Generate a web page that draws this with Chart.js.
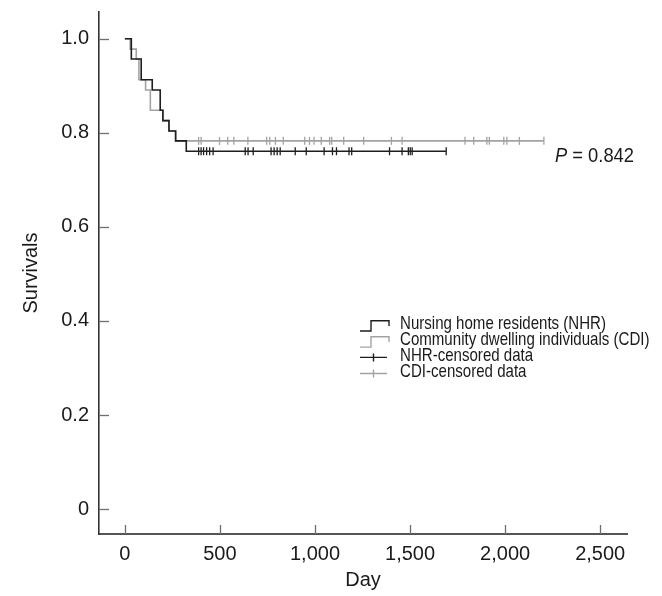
<!DOCTYPE html>
<html lang="en">
<head>
  <meta charset="UTF-8" />
  <title>Survival by residence</title>
  <script src="https://cdn.jsdelivr.net/npm/chart.js@4.4.0/dist/chart.umd.min.js"></script>
  <style>
    body {
      margin: 0;
      background: #fff;
    }

    .chart-box {
      position: relative;
      width: 662px;
      height: 596px;
    }
  </style>
</head>
<body>
  <div class="chart-box">
    <canvas id="kmChart"></canvas>
  </div>

  <script>
    // axis ticks
    const xTicks = [0, 500, 1000, 1500, 2000, 2500];
    const yTicks = [0, 0.2, 0.4, 0.6, 0.8, 1.0];

    // Kaplan-Meier steps (day of event, survival after it); last entry = end of follow-up
    const nhrDays = [0, 34, 86, 144, 186, 200, 232, 267, 323, 1690];
    const nhrSurv = [1.0, 0.957, 0.913, 0.891, 0.848, 0.826, 0.804, 0.783, 0.761, 0.761];
    const cdiDays = [0, 28, 60, 74, 109, 134, 200, 232, 267, 2204];
    const cdiSurv = [1.0, 0.978, 0.957, 0.913, 0.891, 0.848, 0.826, 0.804, 0.783, 0.783];

    // censored observations (days)
    const nhrCensor = [388, 401, 414, 430, 446, 464, 633, 648, 675, 769, 785, 801, 817, 896, 954,
      1048, 1092, 1113, 1179, 1193, 1392, 1458, 1491, 1501, 1511, 1690];
    const cdiCensor = [388, 401, 498, 541, 573, 647, 746, 762, 792, 833, 946, 971, 995, 1033, 1077,
      1088, 1151, 1256, 1402, 1458, 1789, 1835, 1904, 1917, 1993, 2009, 2075, 2204];

    const legendLabels = ['Nursing home residents (NHR)', 'Community dwelling individuals (CDI)',
      'NHR-censored data', 'CDI-censored data'];
    const pValue = '0.842';

    const FONT = "'Liberation Sans', Arial, sans-serif";
    const BLACK = '#1e1e1e';
    const GREY = '#a3a3a3';

    function levelAt(days, surv, d) {
      let s = surv[0];
      for (let i = 0; i < days.length; i++) {
        if (days[i] <= d) s = surv[i];
      }
      return s;
    }

    const toPoints = (days, surv) => days.map((d, i) => ({ x: d, y: surv[i] }));
    const toCensor = (cens, days, surv) => cens.map(d => ({ x: d, y: levelAt(days, surv, d) }));

    // inward tick marks on both axes
    const innerTicks = {
      id: 'innerTicks',
      afterDraw(chart) {
        const { ctx, chartArea, scales } = chart;
        ctx.save();
        ctx.strokeStyle = '#6e6e6e';
        ctx.lineWidth = 1.3;
        xTicks.forEach(v => {
          const px = Math.round(scales.x.getPixelForValue(v)) + 0.5;
          ctx.beginPath();
          ctx.moveTo(px, chartArea.bottom);
          ctx.lineTo(px, chartArea.bottom - 9);
          ctx.stroke();
        });
        yTicks.forEach(v => {
          const py = Math.round(scales.y.getPixelForValue(v)) + 0.5;
          ctx.beginPath();
          ctx.moveTo(chartArea.left, py);
          ctx.lineTo(chartArea.left + 10, py);
          ctx.stroke();
        });
        ctx.restore();
      }
    };

    // narrow text: squeeze horizontally, like the condensed face of the original
    function narrowText(ctx, text, x, y, squeeze) {
      ctx.save();
      ctx.translate(x, y);
      ctx.scale(squeeze, 1);
      ctx.fillText(text, 0, 0);
      ctx.restore();
      return ctx.measureText(text).width * squeeze;
    }

    // legend with step icons and the P value
    const notes = {
      id: 'notes',
      afterDraw(chart) {
        const ctx = chart.ctx;
        ctx.save();
        ctx.font = '19px ' + FONT;
        ctx.textBaseline = 'alphabetic';
        ctx.textAlign = 'left';
        const squeeze = 206 / ctx.measureText(legendLabels[0]).width;
        const base = [328.5, 344.6, 360.7, 376.8];
        const cols = [BLACK, GREY, BLACK, GREY];
        base.forEach((b, i) => {
          ctx.strokeStyle = cols[i];
          ctx.lineWidth = 1.4;
          ctx.beginPath();
          if (i < 2) {
            ctx.moveTo(360, b + 2.5);
            ctx.lineTo(371, b + 2.5);
            ctx.lineTo(371, b - 7.8);
            ctx.lineTo(389, b - 7.8);
            ctx.lineTo(389, b - 2.5);
          } else {
            const y = b - 3.3;
            ctx.moveTo(360, y);
            ctx.lineTo(387, y);
            ctx.moveTo(373.5, y - 4);
            ctx.lineTo(373.5, y + 4);
          }
          ctx.stroke();
          ctx.fillStyle = '#1a1a1a';
          narrowText(ctx, legendLabels[i], 400, b, squeeze);
        });

        // P value, fitted to the width it takes in the original
        ctx.fillStyle = '#1a1a1a';
        ctx.font = 'italic 21px ' + FONT;
        const pw = ctx.measureText('P').width;
        ctx.font = '21px ' + FONT;
        const rest = ' = ' + pValue;
        const pSqueeze = 79 / (pw + ctx.measureText(rest).width);
        ctx.font = 'italic 21px ' + FONT;
        const w = narrowText(ctx, 'P', 555, 162, pSqueeze);
        ctx.font = '21px ' + FONT;
        narrowText(ctx, rest, 555 + w, 162, pSqueeze);
        ctx.restore();
      }
    };

    const kmChart = new Chart(document.getElementById('kmChart'), {
      type: 'scatter',
      data: {
        datasets: [
          {
            label: 'NHR',
            data: toPoints(nhrDays, nhrSurv),
            showLine: true,
            stepped: 'before',
            borderColor: BLACK,
            borderWidth: 1.6,
            pointRadius: 0
          },
          {
            label: 'CDI',
            data: toPoints(cdiDays, cdiSurv),
            showLine: true,
            stepped: 'before',
            borderColor: GREY,
            borderWidth: 1.6,
            pointRadius: 0
          },
          {
            label: 'NHR-censored',
            data: toCensor(nhrCensor, nhrDays, nhrSurv),
            pointStyle: 'line',
            rotation: 90,
            pointRadius: 4,
            borderColor: BLACK,
            pointBorderWidth: 1.3
          },
          {
            label: 'CDI-censored',
            data: toCensor(cdiCensor, cdiDays, cdiSurv),
            pointStyle: 'line',
            rotation: 90,
            pointRadius: 4,
            borderColor: GREY,
            pointBorderWidth: 1.3
          }
        ]
      },
      options: {
        responsive: true,
        maintainAspectRatio: false,
        animation: false,
        layout: {
          padding: { top: 12, right: 35, bottom: 0, left: 0 }
        },
        plugins: {
          legend: { display: false },
          tooltip: { enabled: false }
        },
        scales: {
          x: {
            type: 'linear',
            min: -136,
            max: 2641,
            afterBuildTicks: s => { s.ticks = xTicks.map(v => ({ value: v })); },
            afterFit: s => { s.height = 62; s.paddingLeft = 0; s.paddingRight = 0; },
            grid: { display: false, drawTicks: false },
            border: { display: true, color: '#555', width: 2 },
            ticks: {
              padding: 8,
              color: '#1a1a1a',
              font: { family: FONT, size: 20 },
              callback: v => v.toLocaleString('en-US')
            },
            title: {
              display: true,
              text: 'Day',
              color: '#1a1a1a',
              font: { family: FONT, size: 20 },
              padding: { top: 0, bottom: 4 }
            }
          },
          y: {
            min: -0.053,
            max: 1.057,
            afterBuildTicks: s => { s.ticks = yTicks.map(v => ({ value: v })); },
            afterFit: s => { s.width = 99; s.paddingTop = 0; s.paddingBottom = 0; },
            grid: { display: false, drawTicks: false },
            border: { display: true, color: '#333', width: 1.6 },
            ticks: {
              padding: 10,
              color: '#1a1a1a',
              font: { family: FONT, size: 20 },
              callback: v => (v === 0 ? '0' : v.toFixed(1))
            },
            title: {
              display: true,
              text: 'Survivals',
              color: '#1a1a1a',
              font: { family: FONT, size: 20 },
              padding: { top: 19, bottom: 0 }
            }
          }
        }
      },
      plugins: [innerTicks, notes]
    });
  </script>
</body>
</html>
